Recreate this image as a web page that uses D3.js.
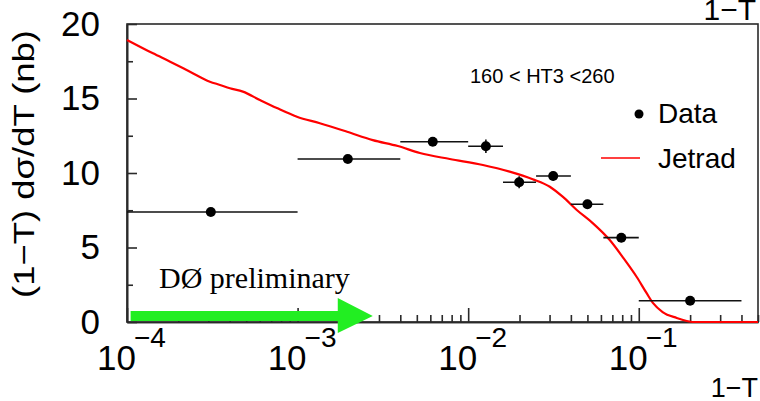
<!DOCTYPE html>
<html>
<head>
<meta charset="utf-8">
<script src="https://cdn.jsdelivr.net/npm/d3@7"></script>
<style>
  body { margin: 0; background: #fff; }
  svg { display: block; }
  .axis path, .axis line { stroke: #2a2a2a; stroke-width: 1.6; }
  .axis text { font-family: "Liberation Sans", Arial, sans-serif; fill: #000; }
</style>
</head>
<body>
<div id="chart"></div>
<script>
// data bins (1-T) and measured values
var dataX   = [3.1e-4, 1.97e-3, 6.2e-3, 1.27e-2, 1.99e-2, 3.15e-2, 5.0e-2, 7.9e-2, 0.2];
var dataXlo = [1e-4, 1e-3, 4e-3, 1e-2, 1.6e-2, 2.5e-2, 4e-2, 6.2e-2, 0.1];
var dataXhi = [1e-3, 4e-3, 1e-2, 1.6e-2, 2.5e-2, 4e-2, 6.2e-2, 0.1, 0.4];
var dataY   = [7.38, 10.94, 12.1, 11.8, 9.38, 9.8, 7.9, 5.66, 1.43];
var dataYerr = [0.2, 0.25, 0.2, 0.45, 0.4, 0.3, 0.3, 0.3, 0.2];

// Jetrad prediction
var jetX = [1e-4, 1.42e-4, 1.79e-4, 2.34e-4, 3.06e-4, 3.51e-4, 4.01e-4, 4.78e-4, 6.01e-4, 7.56e-4,
            9.91e-4, 1.35e-3, 1.95e-3, 2.76e-3, 3.87e-3, 5.21e-3, 7.8e-3, 1.22e-2, 1.75e-2, 2.39e-2,
            3.01e-2, 3.58e-2, 4.33e-2, 5.37e-2, 6.76e-2, 8.05e-2, 9.73e-2, 0.111, 0.121, 0.138,
            0.167, 0.191, 0.207, 0.5];
var jetY = [18.93, 18.03, 17.47, 16.8, 16.13, 15.91, 15.69, 15.46, 14.9, 14.36,
            13.78, 13.34, 12.77, 12.21, 11.81, 11.34, 10.94, 10.54, 10.09, 9.58,
            9.08, 8.41, 7.52, 6.64, 5.5, 4.36, 3.02, 1.95, 1.28, 0.67,
            0.27, 0.07, 0, 0];

var xMajor = [1e-4, 1e-3, 1e-2, 1e-1];
var xExp = ["\u22124", "\u22123", "\u22122", "\u22121"];
var yMajor = [0, 5, 10, 15, 20];
var yMinor = [2.5, 7.5, 12.5, 17.5];

var W = 760, H = 401;
var plotL = 127, plotR = 758, plotT = 24, plotB = 322;

var svg = d3.select("#chart").append("svg")
    .attr("width", W)
    .attr("height", H);

var x = d3.scaleLog().domain([1e-4, 0.5]).range([plotL, plotR]);
var y = d3.scaleLinear().domain([0, 20]).range([plotB, plotT]);

// minor x ticks: 2..9 in each decade
var xMinor = [];
[1e-4, 1e-3, 1e-2, 1e-1].forEach(function(d) {
  for (var k = 2; k <= 9; k++) {
    var v = d * k;
    if (v <= 0.5) xMinor.push(v);
  }
});

// frame
svg.append("rect")
    .attr("x", plotL).attr("y", plotT)
    .attr("width", plotR - plotL).attr("height", plotB - plotT)
    .attr("fill", "none")
    .attr("stroke", "#2a2a2a")
    .attr("stroke-width", 1.6);

// x axis ticks (pointing inward)
svg.append("g")
    .attr("class", "axis")
    .attr("transform", "translate(0," + plotB + ")")
    .call(d3.axisBottom(x).tickValues(xMinor).tickSize(-7).tickSizeOuter(0).tickFormat(""));
svg.append("g")
    .attr("class", "axis")
    .attr("transform", "translate(0," + plotB + ")")
    .call(d3.axisBottom(x).tickValues(xMajor).tickSize(-14).tickSizeOuter(0).tickFormat(""));

// x tick labels 10^n
var xl = svg.append("g").attr("class", "axis");
xMajor.forEach(function(v, i) {
  xl.append("text")
      .attr("x", x(v) + 9)
      .attr("y", 370)
      .attr("text-anchor", "end")
      .style("font-size", "35px")
      .text("10");
  xl.append("text")
      .attr("x", x(v) + 7)
      .attr("y", 347)
      .attr("text-anchor", "start")
      .style("font-size", "28px")
      .text(xExp[i]);
});

// y axis
svg.append("g")
    .attr("class", "axis")
    .attr("transform", "translate(" + plotL + ",0)")
    .call(d3.axisLeft(y).tickValues(yMinor).tickSize(-6).tickSizeOuter(0).tickFormat(""));
svg.append("g")
    .attr("class", "axis")
    .attr("transform", "translate(" + plotL + ",0)")
    .call(d3.axisLeft(y).tickValues(yMajor).tickSize(-10).tickSizeOuter(0).tickPadding(27))
  .selectAll("text")
    .style("font-size", "35px");

// axis titles
svg.append("text")
    .attr("transform", "translate(34,164) rotate(-90)")
    .attr("text-anchor", "middle")
    .attr("textLength", 268)
    .attr("lengthAdjust", "spacingAndGlyphs")
    .style("font-family", "Liberation Sans, Arial, sans-serif")
    .style("font-size", "30px")
    .text("(1\u2212T) d\u03c3/dT (nb)");

svg.append("text")
    .attr("x", 756).attr("y", 20)
    .attr("text-anchor", "end")
    .style("font-family", "Liberation Sans, Arial, sans-serif")
    .style("font-size", "30px")
    .text("1\u2212T");

svg.append("text")
    .attr("x", 758).attr("y", 397)
    .attr("text-anchor", "end")
    .style("font-family", "Liberation Sans, Arial, sans-serif")
    .style("font-size", "27px")
    .text("1\u2212T");

// Jetrad curve
var line = d3.line()
    .x(function(d, i) { return x(jetX[i]); })
    .y(function(d) { return y(d); })
    .curve(d3.curveMonotoneX);

svg.append("path")
    .datum(jetY)
    .attr("d", line)
    .attr("fill", "none")
    .attr("stroke", "#ff0000")
    .attr("stroke-width", 2.2);

// data points with error bars
var pts = svg.append("g");
pts.selectAll(".xerr")
    .data(dataY)
  .enter().append("line")
    .attr("class", "xerr")
    .attr("x1", function(d, i) { return x(dataXlo[i]); })
    .attr("x2", function(d, i) { return x(dataXhi[i]); })
    .attr("y1", function(d) { return y(d); })
    .attr("y2", function(d) { return y(d); })
    .attr("stroke", "#111")
    .attr("stroke-width", 1.6);
pts.selectAll(".yerr")
    .data(dataY)
  .enter().append("line")
    .attr("class", "yerr")
    .attr("x1", function(d, i) { return x(dataX[i]); })
    .attr("x2", function(d, i) { return x(dataX[i]); })
    .attr("y1", function(d, i) { return y(d - dataYerr[i]); })
    .attr("y2", function(d, i) { return y(d + dataYerr[i]); })
    .attr("stroke", "#111")
    .attr("stroke-width", 1.6);
pts.selectAll(".dot")
    .data(dataY)
  .enter().append("circle")
    .attr("class", "dot")
    .attr("cx", function(d, i) { return x(dataX[i]); })
    .attr("cy", function(d) { return y(d); })
    .attr("r", 5)
    .attr("fill", "#000");

// legend
svg.append("text")
    .attr("x", 470).attr("y", 83)
    .style("font-family", "Liberation Sans, Arial, sans-serif")
    .style("font-size", "20px")
    .text("160 < HT3 <260");

svg.append("circle")
    .attr("cx", 639).attr("cy", 114).attr("r", 4.5)
    .attr("fill", "#000");
svg.append("text")
    .attr("x", 658).attr("y", 123)
    .style("font-family", "Liberation Sans, Arial, sans-serif")
    .style("font-size", "28px")
    .text("Data");

svg.append("line")
    .attr("x1", 601).attr("x2", 640)
    .attr("y1", 158).attr("y2", 158)
    .attr("stroke", "#ff0000")
    .attr("stroke-width", 1.3);
svg.append("text")
    .attr("x", 658).attr("y", 168)
    .style("font-family", "Liberation Sans, Arial, sans-serif")
    .style("font-size", "28px")
    .text("Jetrad");

// DØ preliminary annotation with green arrow
svg.append("text")
    .attr("x", 159).attr("y", 288)
    .style("font-family", "Liberation Serif, 'Times New Roman', serif")
    .style("font-size", "30px")
    .text("D\u00d8 preliminary");

var arrowStart = 1.05e-4, arrowHead = 1.72e-3, arrowTip = 2.76e-3, arrowY = 0.4;
var ay = y(arrowY);
svg.append("polygon")
    .attr("points", [
        [x(arrowStart), ay - 5], [x(arrowHead), ay - 5], [x(arrowHead), ay - 18],
        [x(arrowTip), ay], [x(arrowHead), ay + 17], [x(arrowHead), ay + 5],
        [x(arrowStart), ay + 5]
      ].map(function(p) { return p.join(","); }).join(" "))
    .attr("fill", "#22ee22");
</script>
</body>
</html>
